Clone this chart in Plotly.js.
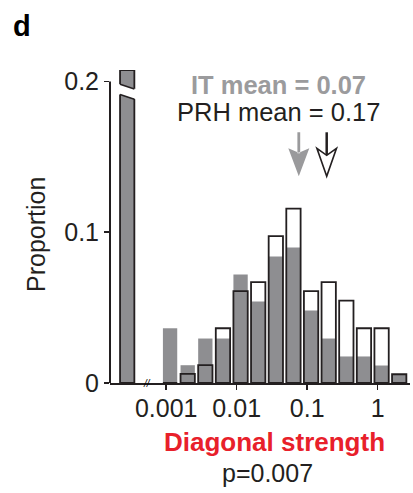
<!DOCTYPE html>
<html><head><meta charset="utf-8">
<script src="https://cdn.plot.ly/plotly-3.0.1.min.js"></script>
<style>html,body{margin:0;padding:0;background:#fff;} #chart{width:413px;height:493px;}</style>
</head><body><div id="chart"></div>
<script>
// Bin centres on a log10 scale; the first bin is the zero-strength bin (left of the axis break)
const binLog10Centers = [-3.553, -2.945, -2.695, -2.445, -2.195, -1.945, -1.695, -1.445, -1.195, -0.945, -0.695, -0.445, -0.195, 0.055, 0.305];
const itProportion  = [0.2076, 0.0363, 0.0118, 0.0295, 0.0295, 0.0719, 0.0540, 0.0839, 0.0899, 0.0481, 0.0295, 0.0176, 0.0176, 0.0116, 0.0058];
const prhProportion = [0.2076, 0, 0.0061, 0.0118, 0.0363, 0.0609, 0.0669, 0.0974, 0.1157, 0.0609, 0.0669, 0.0547, 0.0363, 0.0363, 0.0058];
const xTickVals = [-3, -2, -1, 0];
const xTickText = ['0.001', '0.01', '0.1', '1'];
const yTickVals = [0, 0.1, 0.2];
const yTickText = ['0', '0.1', '0.2'];
const meanLabels = ['IT mean = 0.07', 'PRH mean = 0.17'];
const meanArrowAt = [0.076, 0.189];   // arrow positions
const xTitle = 'Diagonal strength';
const yTitle = 'Proportion';
const pLabel = 'p=0.007';
const panelLabel = 'd';

const FONT = 'Liberation Sans, Arial, Helvetica, sans-serif';
const INK = '#231f20';
const GRAY = '#8e8e91';
const BAR_W = 0.203;
const Y_TOP = 0.2076;   // room for the broken zero bin above the 0.2 tick
const Y_AXIS_END = 0.2;

// layout geometry (pixels)
const L = 110, R = 3, T = 70, B = 110, W = 413, H = 493;
const pw = W - L - R, ph = H - T - B;
const px = x => (x - L) / pw;
const py = y => (H - B - y) / ph;

const traces = [
  {type: 'bar', name: 'IT', x: binLog10Centers, y: itProportion, width: BAR_W,
   marker: {color: GRAY, line: {width: 0}}, hoverinfo: 'skip'},
  {type: 'bar', name: 'PRH', x: binLog10Centers, y: prhProportion, width: BAR_W,
   marker: {color: 'rgba(0,0,0,0)', line: {color: INK, width: 1.8}}, hoverinfo: 'skip'}
];

// axis-break gap on the zero bin
const zc = binLog10Centers[0];
const bl = zc - BAR_W / 2, br = zc + BAR_W / 2;
const gl = bl - 0.03, gr = br + 0.03;
const shapes = [
  // y axis line that stops at the 0.2 tick
  {type: 'line', xref: 'paper', yref: 'paper', x0: 0, x1: 0, y0: 0, y1: Y_AXIS_END / Y_TOP,
   line: {color: INK, width: 2}, layer: 'above'},
  {type: 'path', xref: 'x', yref: 'y', layer: 'above',
   path: `M${gl},0.1984 L${gr},0.1948 L${gr},0.1880 L${gl},0.1916 Z`,
   fillcolor: '#ffffff', line: {width: 0}},
  {type: 'line', xref: 'x', yref: 'y', layer: 'above', x0: bl, x1: br, y0: 0.1982, y1: 0.1950,
   line: {color: INK, width: 1.5}},
  {type: 'line', xref: 'x', yref: 'y', layer: 'above', x0: bl, x1: br, y0: 0.1914, y1: 0.1882,
   line: {color: INK, width: 1.5}},
  // IT mean arrow (filled gray)
  {type: 'path', xref: 'x', yref: 'y', xsizemode: 'pixel', ysizemode: 'pixel', layer: 'above',
   xanchor: Math.log10(meanArrowAt[0]), yanchor: 0.1371,
   path: 'M0,0 L-10.5,28 L0,23.5 L10.5,28 Z M-1.4,23 L-1.4,44 L1.4,44 L1.4,23 Z',
   fillcolor: '#9a9a9c', line: {width: 0}},
  // PRH mean arrow (hollow black)
  {type: 'path', xref: 'x', yref: 'y', xsizemode: 'pixel', ysizemode: 'pixel', layer: 'above',
   xanchor: Math.log10(meanArrowAt[1]), yanchor: 0.1371,
   path: 'M0,21 L0,44', line: {color: INK, width: 2.5}},
  {type: 'path', xref: 'x', yref: 'y', xsizemode: 'pixel', ysizemode: 'pixel', layer: 'above',
   xanchor: Math.log10(meanArrowAt[1]), yanchor: 0.1371,
   path: 'M0,0 L-9.8,28 L0,21 L9.8,28 Z', fillcolor: '#ffffff', line: {color: INK, width: 1.6}}
];

const annotations = [
  {text: '<b>' + panelLabel + '</b>', xref: 'paper', yref: 'paper', x: px(11), y: py(26),
   xanchor: 'left', yanchor: 'middle', showarrow: false, font: {family: FONT, size: 29, color: '#000'}},
  {text: '<b>' + meanLabels[0] + '</b>', xref: 'paper', yref: 'paper', x: px(278), y: py(85),
   xanchor: 'center', yanchor: 'middle', showarrow: false, font: {family: FONT, size: 25.5, color: '#9b9b9d'}},
  {text: meanLabels[1], xref: 'paper', yref: 'paper', x: px(278), y: py(112),
   xanchor: 'center', yanchor: 'middle', showarrow: false, font: {family: FONT, size: 25.5, color: INK}},
  {text: '<b>' + xTitle + '</b>', xref: 'paper', yref: 'paper', x: px(274), y: py(442),
   xanchor: 'center', yanchor: 'middle', showarrow: false, font: {family: FONT, size: 26, color: '#e8202a'}},
  {text: pLabel, xref: 'paper', yref: 'paper', x: px(267.5), y: py(473),
   xanchor: 'center', yanchor: 'middle', showarrow: false, font: {family: FONT, size: 25, color: INK}},
  {text: yTitle, xref: 'paper', yref: 'paper', x: px(36), y: py(235), textangle: -90,
   xanchor: 'center', yanchor: 'middle', showarrow: false, font: {family: FONT, size: 25, color: INK}},
  {text: '<i>//</i>', xref: 'x', yref: 'paper', x: -3.277, y: 0, xanchor: 'center', yanchor: 'middle',
   showarrow: false, font: {family: FONT, size: 10, color: '#000'}}
];

const axisCommon = {linewidth: 2, linecolor: INK, ticks: 'outside', ticklen: 5,
  tickwidth: 1.5, tickcolor: INK, showgrid: false, zeroline: false, fixedrange: true,
  tickfont: {family: FONT, size: 25, color: INK}};

const layout = {
  width: W, height: H, margin: {l: L, r: R, t: T, b: B, pad: 0},
  paper_bgcolor: '#fff', plot_bgcolor: '#fff', showlegend: false, barmode: 'overlay',
  font: {family: FONT, color: INK},
  xaxis: Object.assign({}, axisCommon, {showline: true, range: [-3.797, 0.458], tickmode: 'array',
    tickvals: xTickVals, ticktext: xTickText, ticklabelstandoff: -3}),
  yaxis: Object.assign({}, axisCommon, {showline: false, range: [0, Y_TOP], tickmode: 'array',
    tickvals: yTickVals, ticktext: yTickText}),
  shapes: shapes, annotations: annotations
};

Plotly.newPlot('chart', traces, layout, {displayModeBar: false, staticPlot: true});
</script>
</body></html>
